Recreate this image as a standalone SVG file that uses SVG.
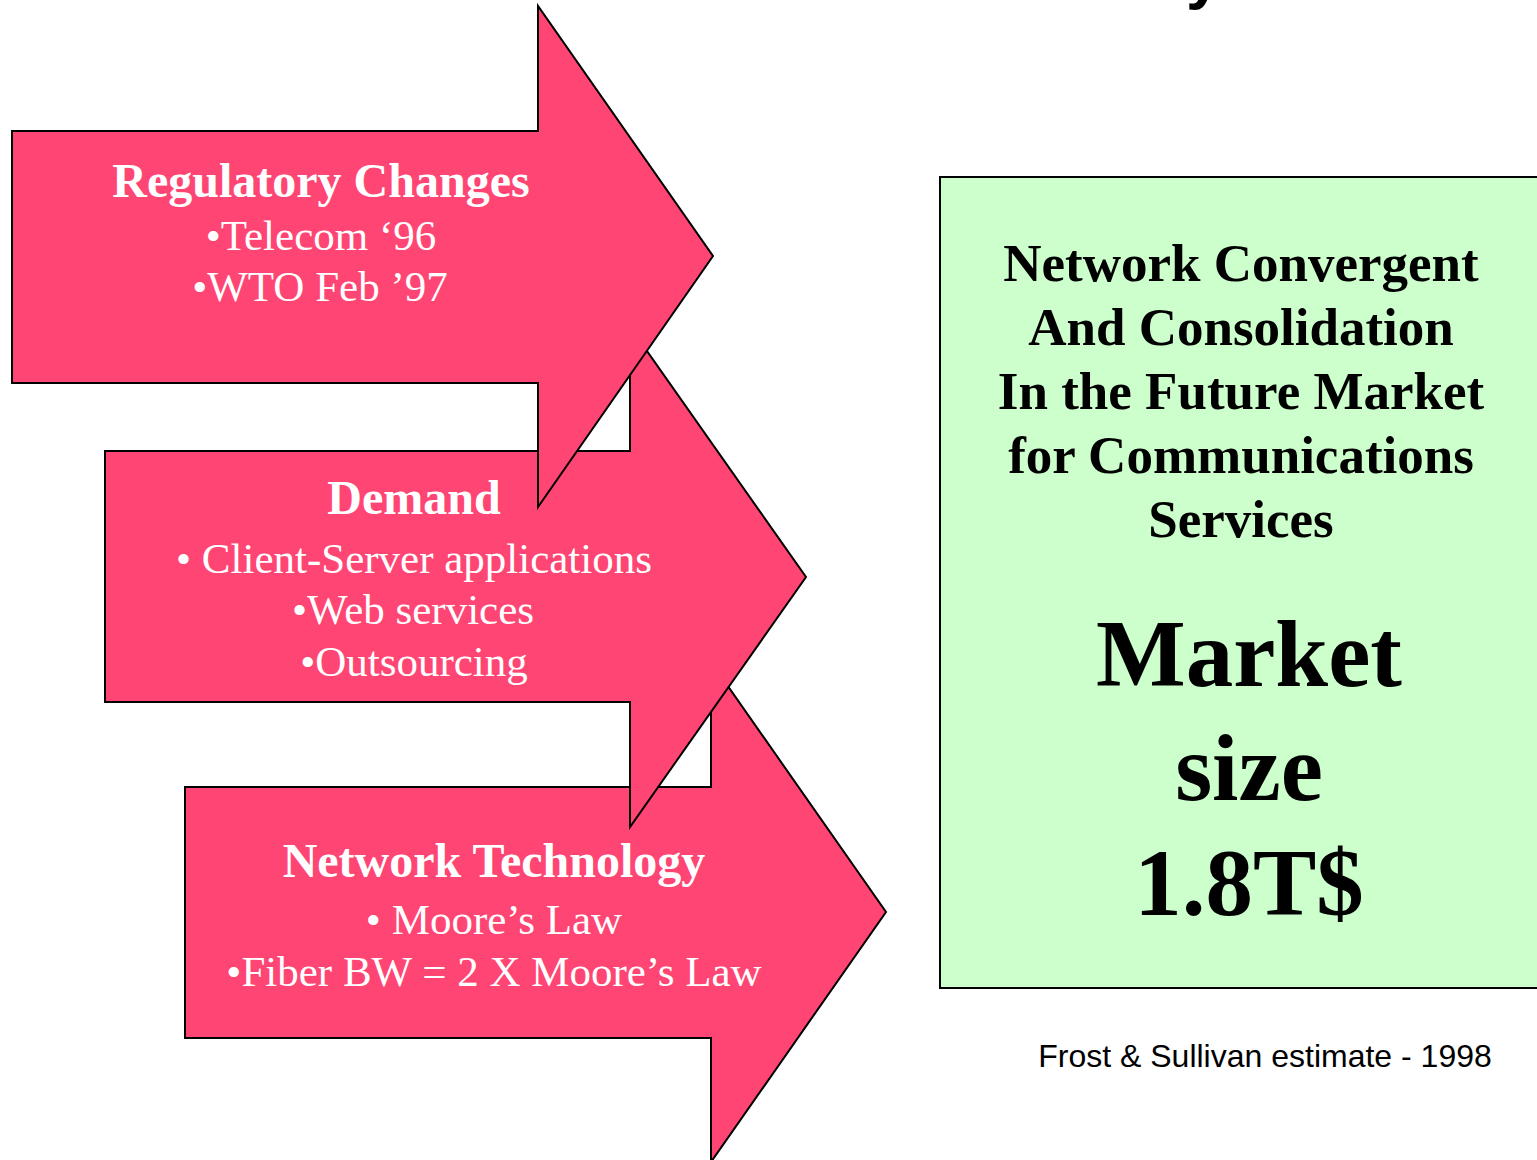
<svg xmlns="http://www.w3.org/2000/svg" width="1537" height="1160" viewBox="0 0 1537 1160">
<style>
.arrow{fill:#FF4573;stroke:#000;stroke-width:2;stroke-linejoin:miter}
.h{font-family:"Liberation Serif","Times New Roman",serif;font-weight:bold;font-size:48px;fill:#fff;text-anchor:middle}
.b{font-family:"Liberation Serif","Times New Roman",serif;font-size:43px;fill:#fff;text-anchor:middle}
.g{font-family:"Liberation Serif","Times New Roman",serif;font-weight:bold;font-size:53px;fill:#000;text-anchor:middle}
.m{font-family:"Liberation Serif","Times New Roman",serif;font-weight:bold;font-size:95px;fill:#000;text-anchor:middle}
</style>
<text x="1186" y="-3" font-family="Liberation Sans,Arial,sans-serif" font-weight="bold" font-size="64">y</text>
<g id="arrow-network-technology">
<polygon class="arrow" points="185,787 711,787 711,662 886,912 711,1162 711,1038 185,1038"/>
<text class="h" x="494" y="877">Network Technology</text>
<text class="b" x="494" y="934">• Moore’s Law</text>
<text class="b" x="494" y="986">•Fiber BW = 2 X Moore’s Law</text>
</g>
<g id="arrow-demand">
<polygon class="arrow" points="105,451 630,451 630,327 806,577 630,827 630,702 105,702"/>
<text class="h" x="414" y="514">Demand</text>
<text class="b" x="414" y="573">• Client-Server applications</text>
<text class="b" x="413" y="624">•Web services</text>
<text class="b" x="414" y="676">•Outsourcing</text>
</g>
<g id="arrow-regulatory">
<polygon class="arrow" points="12,131 538,131 538,6 713,256 538,507 538,383 12,383"/>
<text class="h" x="321" y="197">Regulatory Changes</text>
<text class="b" x="321" y="250">•Telecom ‘96</text>
<text class="b" x="320" y="301">•WTO Feb ’97</text>
</g>
<g id="market-box">
<rect x="940" y="177" width="610" height="811" fill="#CCFFCC" stroke="#000" stroke-width="2"/>
<text class="g" x="1241" y="281">Network Convergent</text>
<text class="g" x="1241" y="345">And Consolidation</text>
<text class="g" x="1241" y="409">In the Future Market</text>
<text class="g" x="1241" y="473">for Communications</text>
<text class="g" x="1241" y="537">Services</text>
<text class="m" x="1249" y="686">Market</text>
<text class="m" x="1249" y="800">size</text>
<text class="m" x="1249" y="915">1.8T$</text>
</g>
<g id="connectors"></g>
<text x="1265" y="1067" font-family="Liberation Sans,Arial,sans-serif" font-size="32" text-anchor="middle" fill="#000">Frost &amp; Sullivan estimate - 1998</text>
</svg>
